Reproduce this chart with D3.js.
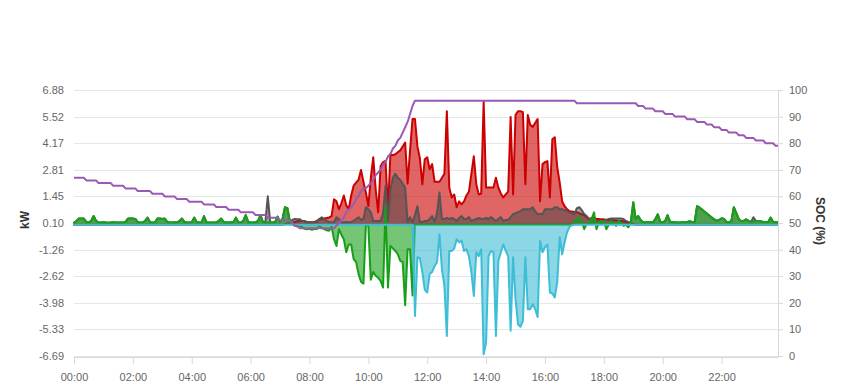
<!DOCTYPE html>
<html><head><meta charset="utf-8">
<script src="https://cdn.jsdelivr.net/npm/d3@7"></script>
<style>
body{margin:0;background:#fff;}
svg text{font-family:"Liberation Sans",Arial,Helvetica,sans-serif;}
</style>
</head><body>
<svg id="chart" width="849" height="390"></svg>
<script>
// ---- data (5-minute samples, 00:00 .. 23:55) ----
const timeLabels = ["00:00","02:00","04:00","06:00","08:00","10:00","12:00","14:00","16:00","18:00","20:00","22:00"];
const timeTickHours = [0,2,4,6,8,10,12,14,16,18,20,22];
const kwTicks = [6.88,5.52,4.17,2.81,1.45,0.10,-1.26,-2.62,-3.98,-5.33,-6.69];
const socTicks = [0,10,20,30,40,50,60,70,80,90,100];

const pv = [
0,0,0,0,0,0,0,0,0,0,0,0,
0,0,0,0,0,0,0,0,0,0,0,0,
0,0,0,0,0,0,0,0,0,0,0,0,
0,0,0,0,0,0,0,0,0,0,0,0,
0,0,0,0,0,0,0,0,0,0,0,0,
0,0,0,0,0,0,0,0,0,0,0,0,
0,0,0,0,0,0,0,0,0,0,0,0,
0,0,0.05,0.08,0.1,0.12,0.15,0.18,0.2,0.2,0.18,0.15,
0.13,0.13,0.15,0.2,0.28,0.3,0.32,0.35,0.38,0.45,1.3,1.2,
0.8,1.1,1.5,1.0,0.8,1.5,2.0,2.15,2.3,2.8,2.2,1.65,
0.96,2.4,3.45,1.8,0.64,3.0,3.2,3.26,0.8,3.6,3.55,3.6,
3.7,3.8,4.0,4.2,2.1,3.8,5.4,5.4,4.0,3.4,2.07,3.35,
3.45,2.84,3.1,2.2,2.2,2.2,2.4,2.6,5.8,1.9,1.4,1.55,
0.9,1.2,1.05,1.2,1.5,1.7,2.6,3.5,2.07,1.55,1.6,6.3,
1.9,1.9,1.9,1.9,2.4,1.9,1.6,1.4,1.55,1.7,5.5,1.55,
5.6,5.8,5.8,5.75,2.07,5.6,5.1,5.0,5.2,5.4,1.2,3.1,
3.2,3.25,1.4,4.37,4.47,2.94,2.17,1.2,0.95,0.8,0.7,0.68,
0.66,0.64,0.6,0.54,0.5,0.4,0.29,0.35,0.38,0.3,0.3,0.28,
0.28,0.26,0.25,0.25,0.24,0.22,0.2,0.2,0.18,0.15,0.12,0.1,
0.05,0,0,0,0,0,0,0,0,0,0,0,
0,0,0,0,0,0,0,0,0,0,0,0,
0,0,0,0,0,0,0,0,0,0,0,0,
0,0,0,0,0,0,0,0,0,0,0,0,
0,0,0,0,0,0,0,0,0,0,0,0
];

const load = [
0.1,0.2,0.32,0.33,0.32,0.15,0.12,0.2,0.45,0.2,0.12,0.12,
0.13,0.12,0.11,0.12,0.13,0.12,0.12,0.12,0.13,0.15,0.32,0.33,
0.32,0.3,0.14,0.12,0.12,0.2,0.37,0.13,0.12,0.12,0.32,0.33,
0.3,0.32,0.15,0.12,0.12,0.13,0.12,0.2,0.32,0.15,0.12,0.12,
0.14,0.37,0.15,0.12,0.13,0.45,0.14,0.12,0.12,0.12,0.13,0.2,
0.32,0.15,0.12,0.12,0.13,0.14,0.37,0.14,0.12,0.2,0.5,0.15,
0.12,0.12,0.13,0.2,0.5,0.15,0.12,1.46,0.13,0.12,0.15,0.42,
0.15,0.3,0.9,0.85,0.2,0.25,0.3,0.29,0.29,0.2,0.2,0.13,
0.13,0.13,0.13,0.15,0.3,0.39,0.3,0.2,0.15,0.13,0.15,0.39,
0.3,0.13,0.13,0.15,0.13,0.15,0.2,0.3,0.39,0.25,0.3,0.9,
0.8,0.64,0.2,0.2,0.2,0.2,0.6,2.0,0.2,1.8,2.4,2.6,
2.4,2.3,2.1,1.9,0.15,0.39,0.13,0.5,0.95,0.15,0.15,0.2,
0.2,0.3,0.45,0.15,0.6,1.65,0.3,0.3,0.35,0.3,0.35,0.3,
0.2,0.35,0.45,0.3,0.3,0.4,0.2,0.25,0.3,0.35,0.3,0.3,
0.35,0.3,0.4,0.3,0.2,0.3,0.4,0.2,0.25,0.25,0.4,0.55,
0.6,0.65,0.7,0.8,0.8,0.8,0.8,0.9,0.7,0.55,0.55,0.55,
0.8,0.8,0.8,0.8,0.9,0.9,0.8,0.8,0.75,0.7,0.64,0.6,
0.55,0.85,0.9,0.75,0.55,0.45,0.3,0.25,0.2,0.2,0.2,0.2,
0.2,0.25,0.3,0.32,0.33,0.33,0.32,0.33,0.3,0.2,0.15,0.13,
1.15,0.3,0.45,0.25,0.13,0.13,0.13,0.13,0.13,0.3,0.54,0.15,
0.13,0.2,0.49,0.15,0.13,0.13,0.12,0.12,0.13,0.13,0.15,0.18,
0.15,0.13,0.96,0.88,0.78,0.68,0.58,0.48,0.38,0.28,0.2,0.25,
0.34,0.3,0.15,0.13,0.2,0.9,0.6,0.3,0.2,0.2,0.28,0.2,
0.15,0.39,0.2,0.2,0.18,0.15,0.14,0.15,0.37,0.15,0.13,0.13
];

const battery = [
0.1,0.2,0.32,0.33,0.32,0.15,0.12,0.2,0.45,0.2,0.12,0.12,
0.13,0.12,0.11,0.12,0.13,0.12,0.12,0.12,0.13,0.15,0.32,0.33,
0.32,0.3,0.14,0.12,0.12,0.2,0.37,0.13,0.12,0.12,0.32,0.33,
0.3,0.32,0.15,0.12,0.12,0.13,0.12,0.2,0.32,0.15,0.12,0.12,
0.14,0.37,0.15,0.12,0.13,0.42,0.14,0.12,0.12,0.12,0.13,0.2,
0.32,0.15,0.12,0.12,0.13,0.14,0.37,0.14,0.12,0.2,0.5,0.15,
0.12,0.12,0.13,0.2,0.5,0.15,0.12,0.12,0.13,0.12,0.15,0.42,
0.15,0.3,0.9,0.85,0.15,0.05,-0.05,-0.08,-0.05,-0.12,-0.2,-0.22,
-0.2,-0.25,-0.2,-0.22,-0.05,-0.15,-0.22,-0.28,-0.3,-0.1,-0.73,-1.08,
-0.22,-0.5,-0.73,-1.4,-1.0,-1.0,-1.75,-1.9,-2.5,-2.9,-3.0,0,
-0.05,-2.8,-2.4,-2.6,-2.7,-2.86,-3.2,0.9,-3.2,-1.08,-1.2,-1.33,
-1.5,-1.84,-1.9,-4.1,-1.25,-1.25,-3.6,0,0,0,0,0,
0,0,0,0,0,0,0,0,0,0,0,0,
0,0,0,0,0,0,0,0,0,0,0,0,
0,0,0,0,0,0,0,0,0,0,0,0,
0,0,0,0,0,0,0,0,0,0,0,0,
0,0,0,0,0,0,0,0,0,0,0,0,
0.13,0.3,0.39,0.2,-0.22,0.05,0.13,0.3,0.64,-0.22,0.13,0.2,
0.2,-0.22,0,0.2,0.1,-0.05,0.2,0.1,-0.05,0,-0.12,0.13,
1.15,0.3,0.45,0.25,0.13,0.13,0.13,0.13,0.13,0.3,0.54,0.15,
0.13,0.2,0.49,0.15,0.13,0.13,0.12,0.12,0.13,0.13,0.15,0.18,
0.15,0.13,0.96,0.88,0.78,0.68,0.58,0.48,0.38,0.28,0.2,0.25,
0.34,0.3,0.15,0.13,0.2,0.9,0.6,0.3,0.2,0.2,0.28,0.2,
0.15,0.17,0.2,0.2,0.18,0.15,0.14,0.15,0.37,0.15,0.13,0.13
];

const grid = [
0,0,0,0,0,0,0,0,0,0,0,0,
0,0,0,0,0,0,0,0,0,0,0,0,
0,0,0,0,0,0,0,0,0,0,0,0,
0,0,0,0,0,0,0,0,0,0,0,0,
0,0,0,0,0,0,0,0,0,0,0,0,
0,0,0,0,0,0,0,0,0,0,0,0,
0,0,0,0,0,0,0,0,0,0,0,0,
0,0,0,0,0,0,0,0,0,0,0,0,
0,0,0,0,0,0,0,0,0,0,0,0,
0,0,0,0,0,0,0,0,0,0,0,0,
0,0,0,0,0,0,0,0,0,0,0,0,
0,0,0,0,0,0,0,-4.65,-1.65,-1.7,-2.4,-3.3,
-3.45,-2.5,-2.4,-2.1,-1.9,-0.48,-2.27,-3.1,-5.67,-1.33,-1.33,-1.2,
-0.73,-0.9,-0.8,-1.33,-1.25,-1.6,-2.4,-3.63,-1.4,-1.6,-1.25,-6.6,
-6.0,-1.6,-1.33,-1.4,-5.67,-1.84,-1.4,-1.0,-1.33,-1.6,-5.4,-1.65,
-3.8,-5.07,-5.2,-4.9,-1.65,-4.3,-4.3,-4.05,-4.3,-4.7,-0.82,-1.4,
-1.14,-1.0,-3.45,-3.5,-3.7,-2.93,-0.63,-1.5,-0.9,-0.38,-0.1,-0.02,
0,0,0,0,0,0,0,0,0,0,0,0,
0,0,0,0,0,0,0,0,0,0,0,0,
0,0,0,0,0,0,0,0,0,0,0,0,
0,0,0,0,0,0,0,0,0,0,0,0,
0,0,0,0,0,0,0,0,0,0,0,0,
0,0,0,0,0,0,0,0,0,0,0,0,
0,0,0,0,0,0,0,0,0,0,0,0
];

const soc = [
67,67,67,67,67,66,66,66,66,66,65,65,
65,65,65,65,64,64,64,64,64,63,63,63,
63,63,62,62,62,62,62,62,61,61,61,61,
61,60,60,60,60,60,59,59,59,59,59,58,
58,58,58,58,58,57,57,57,57,57,56,56,
56,56,56,55,55,55,55,55,54,54,54,54,
54,54,53,53,53,53,53,52,52,52,52,52,
51,51,51,51,51,50,49,49,48,48,48,48,
48,48,48,48,48,48,48,48,48,48,48,49,
50,51,52,54,55,56,57,59,60,62,63,63,
64,65,66,68,69,70,72,73,75,76,78,79,
81,82,84,86,88,91,94,96,96,96,96,96,
96,96,96,96,96,96,96,96,96,96,96,96,
96,96,96,96,96,96,96,96,96,96,96,96,
96,96,96,96,96,96,96,96,96,96,96,96,
96,96,96,96,96,96,96,96,96,96,96,96,
96,96,96,96,96,96,96,96,96,96,96,96,
96,95,95,95,95,95,95,95,95,95,95,95,
95,95,95,95,95,95,95,95,95,95,95,95,
95,95,94,94,94,93,93,93,93,92,92,92,
92,91,91,91,91,90,90,90,90,90,89,89,
89,89,88,88,88,88,87,87,87,86,86,86,
85,85,85,84,84,84,84,83,83,83,82,82,
82,82,81,81,81,81,80,80,80,80,79,79
];

// time categories (hours) for the 5-minute samples
const hours = pv.map((_, i) => i / 12);

// ---- drawing ----
const svg = d3.select("#chart");
const plotLeft = 74, plotRight = 778, plotTop = 90, plotBottom = 356;

const x = d3.scaleLinear().domain([0, hours[hours.length - 1]]).range([plotLeft, plotRight]);
const yKw = d3.scaleLinear().domain([-6.69, 6.88]).range([plotBottom, plotTop]);
const ySoc = d3.scaleLinear().domain([0, 100]).range([plotBottom, plotTop]);

// gridlines
svg.append("g").selectAll("line").data(kwTicks).join("line")
  .attr("x1", plotLeft).attr("x2", plotRight)
  .attr("y1", d => Math.round(yKw(d)) + 0.5).attr("y2", d => Math.round(yKw(d)) + 0.5)
  .attr("stroke", "#e6e6e6").attr("stroke-width", 1);

function drawArea(values, lineColor, fillColor, fillOpacity) {
  const pts = values.map((v, i) => [hours[i], v]);
  const area = d3.area().x(d => x(d[0])).y0(yKw(0)).y1(d => yKw(d[1]));
  const line = d3.line().x(d => x(d[0])).y(d => yKw(d[1]));
  svg.append("path").datum(pts).attr("d", area)
    .attr("fill", fillColor).attr("fill-opacity", fillOpacity);
  svg.append("path").datum(pts).attr("d", line)
    .attr("fill", "none").attr("stroke", lineColor).attr("stroke-width", 2)
    .attr("stroke-linejoin", "round").attr("stroke-linecap", "round");
}

drawArea(pv, "#cc0000", "#cc0000", 0.6);
drawArea(load, "#555555", "#444444", 0.5);
drawArea(battery, "#17a017", "#17a017", 0.6);
drawArea(grid, "#3dbdd6", "#3dbdd6", 0.6);

// SOC line
svg.append("path").datum(soc.map((v, i) => [hours[i], v]))
  .attr("d", d3.line().x(d => x(d[0])).y(d => ySoc(d[1])))
  .attr("fill", "none").attr("stroke", "#9b59b6").attr("stroke-width", 2)
  .attr("stroke-linejoin", "round");

// left axis
const gl = svg.append("g").attr("transform", `translate(${plotLeft},0)`)
  .call(d3.axisLeft(yKw).tickValues(kwTicks).tickFormat(d => d.toFixed(2)).tickSize(0).tickPadding(10));
gl.select(".domain").remove();

// right axis
const gr = svg.append("g").attr("transform", `translate(${plotRight},0)`)
  .call(d3.axisRight(ySoc).tickValues(socTicks).tickFormat(d => String(d)).tickSize(5).tickSizeOuter(0).tickPadding(6));
gr.select(".domain").attr("stroke", "#d8d8d8");
gr.selectAll(".tick line").attr("stroke", "#d8d8d8");

// bottom axis
const gb = svg.append("g").attr("transform", `translate(0,${plotBottom + 1})`)
  .call(d3.axisBottom(x).tickValues(timeTickHours).tickFormat((d, i) => timeLabels[i]).tickSize(7).tickSizeOuter(0).tickPadding(9));
gb.select(".domain").attr("stroke", "#d8d8d8");
gb.selectAll(".tick line").attr("stroke", "#d8d8d8");

svg.selectAll(".tick text").attr("fill", "#666").style("font-size", "11px")
  .style("font-family", '"Liberation Sans",Arial,sans-serif');

// axis titles
svg.append("text").text("kW")
  .attr("transform", "translate(29,220) rotate(-90)")
  .attr("text-anchor", "middle").attr("fill", "#333")
  .style("font-size", "12px").style("font-weight", "bold");
svg.append("text").text("SOC (%)")
  .attr("transform", "translate(816,221) rotate(90)")
  .attr("text-anchor", "middle").attr("fill", "#333")
  .style("font-size", "12px").style("font-weight", "bold");
</script>
</body></html>
